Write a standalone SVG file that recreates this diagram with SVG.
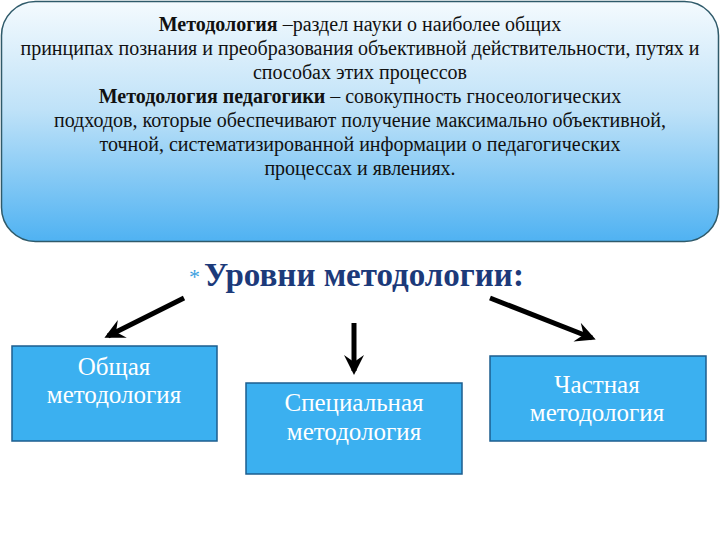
<svg xmlns="http://www.w3.org/2000/svg" width="720" height="540" viewBox="0 0 720 540">
<defs>
<linearGradient id="g" x1="0" y1="0" x2="0" y2="1">
<stop offset="0" stop-color="#f4fafe"/>
<stop offset="0.45" stop-color="#bfe2f8"/>
<stop offset="1" stop-color="#4fb2f2"/>
</linearGradient>
<marker id="ah" viewBox="0 0 10 10" refX="8" refY="5" markerWidth="4" markerHeight="4.4" orient="auto" markerUnits="strokeWidth">
<path d="M0,0 L10,5 L0,10 L3.5,5 z" fill="#000"/>
</marker>
</defs>
<style>
.t{font-family:"Liberation Serif","Times New Roman",serif;font-size:20px;fill:#111;text-anchor:middle}
.b{font-weight:bold}
.box{fill:#3bb0f0;stroke:#1d5e8f;stroke-width:1.5}
.bt{font-family:"Liberation Serif","Times New Roman",serif;font-size:25px;fill:#fff;text-anchor:middle}
.arr{stroke:#000;stroke-width:5;fill:none;marker-end:url(#ah)}
</style>
<rect width="720" height="540" fill="#fff"/>
<g id="definition">
<rect x="1.5" y="1.5" width="717" height="240" rx="34" ry="34" fill="url(#g)" stroke="#2f5a6a" stroke-width="1.5"/>
<text class="t" x="360" y="31"><tspan class="b">Методология</tspan> –раздел науки о наиболее общих</text>
<text class="t" x="360" y="55">принципах познания и преобразования объективной действительности, путях и</text>
<text class="t" x="360" y="79">способах этих процессов</text>
<text class="t" x="360" y="103"><tspan class="b">Методология педагогики</tspan> – совокупность гносеологических</text>
<text class="t" x="360" y="127">подходов, которые обеспечивают получение максимально объективной,</text>
<text class="t" x="360" y="151">точной, систематизированной  информации о педагогических</text>
<text class="t" x="360" y="175">процессах и явлениях.</text>
</g>
<g id="heading">
<text x="189" y="284" font-family="Liberation Serif,serif" font-size="22" fill="#3aa0e0">*</text>
<text x="204" y="286" font-family="Liberation Serif,'Times New Roman',serif" font-size="33" font-weight="bold" fill="#1c3a7a">Уровни методологии:</text>
</g>
<g id="connectors">
<line class="arr" x1="184" y1="298" x2="108" y2="336"/>
<line class="arr" x1="354" y1="323" x2="354" y2="371"/>
<line class="arr" x1="490" y1="298" x2="592" y2="338"/>
</g>
<g id="general">
<rect class="box" x="12" y="346" width="205" height="95"/>
<text class="bt" x="114" y="375">Общая</text>
<text class="bt" x="114" y="403">методология</text>
</g>
<g id="special">
<rect class="box" x="246" y="383" width="216" height="91"/>
<text class="bt" x="354" y="411">Специальная</text>
<text class="bt" x="354" y="440">методология</text>
</g>
<g id="particular">
<rect class="box" x="490" y="356" width="216" height="85"/>
<text class="bt" x="597" y="393">Частная</text>
<text class="bt" x="597" y="421">методология</text>
</g>
</svg>
